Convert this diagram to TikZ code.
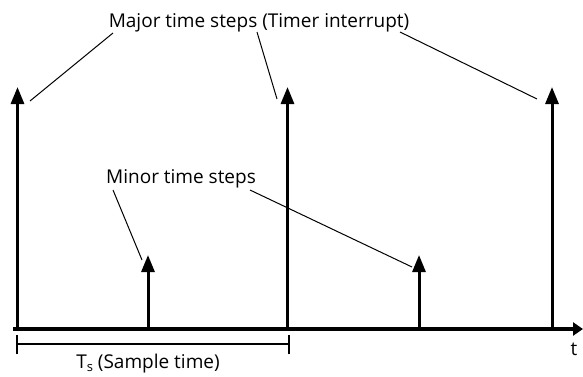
\documentclass[tikz,border=0pt]{standalone}
\usepackage{fontspec}
\setmainfont{Open Sans}
\usetikzlibrary{arrows.meta}
\begin{document}
\begin{tikzpicture}[x=1pt,y=-1pt,
  stem/.style={line width=3pt,-{Triangle[width=13pt,length=17pt]}},
  axisline/.style={line width=3.5pt,-{Triangle[width=13pt,length=10pt]}},
  leader/.style={line width=1pt},
  bracket/.style={line width=2pt},
  lbl/.style={inner sep=0pt,anchor=base,font=\fontsize{19}{22}\selectfont}]
\useasboundingbox (0,0) rectangle (583,376);

% time axis
\coordinate (ax0) at (13,329);
\coordinate (ax1) at (583,329);
\draw[axisline] (ax0) -- (ax1);

% major steps
\foreach \n/\x in {ma1/17.5,ma2/287.5,ma3/552}{
  \coordinate (\n b) at (\x,329);
  \coordinate (\n t) at (\x,87);
  \draw[stem] (\n b) -- (\n t);
}
% minor steps
\foreach \n/\x in {mi1/148,mi2/419}{
  \coordinate (\n b) at (\x,329);
  \coordinate (\n t) at (\x,255);
  \draw[stem] (\n b) -- (\n t);
}

% labels
\node[lbl] (major) at (259,27) {Major time steps (Timer interrupt)};
\node[lbl] (minor) at (181,183) {Minor time steps};
\node[lbl] (tlab) at (574,355) {t};
\node[lbl] (ts) at (148,368) {T\raisebox{-0.3ex}{\fontsize{13}{13}\selectfont s} (Sample time)};

% leader lines
\coordinate (l1a) at (113,33);  \coordinate (l1b) at (30,101);
\coordinate (l2a) at (257,32);  \coordinate (l2b) at (277,99);
\coordinate (l3a) at (400,32);  \coordinate (l3b) at (537,99);
\coordinate (l4a) at (113,190); \coordinate (l4b) at (142,260);
\coordinate (l5a) at (250,190); \coordinate (l5b) at (412,267);
\draw[leader] (l1a) -- (l1b);
\draw[leader] (l2a) -- (l2b);
\draw[leader] (l3a) -- (l3b);
\draw[leader] (l4a) -- (l4b);
\draw[leader] (l5a) -- (l5b);

% sample-time bracket
\coordinate (br0) at (17,344);
\coordinate (br1) at (289,344);
\draw[bracket] (br0) -- (br1);
\draw[bracket] ([yshift=-10]br0) -- ([yshift=9]br0);
\draw[bracket] ([yshift=-10]br1) -- ([yshift=9]br1);
\end{tikzpicture}
\end{document}
